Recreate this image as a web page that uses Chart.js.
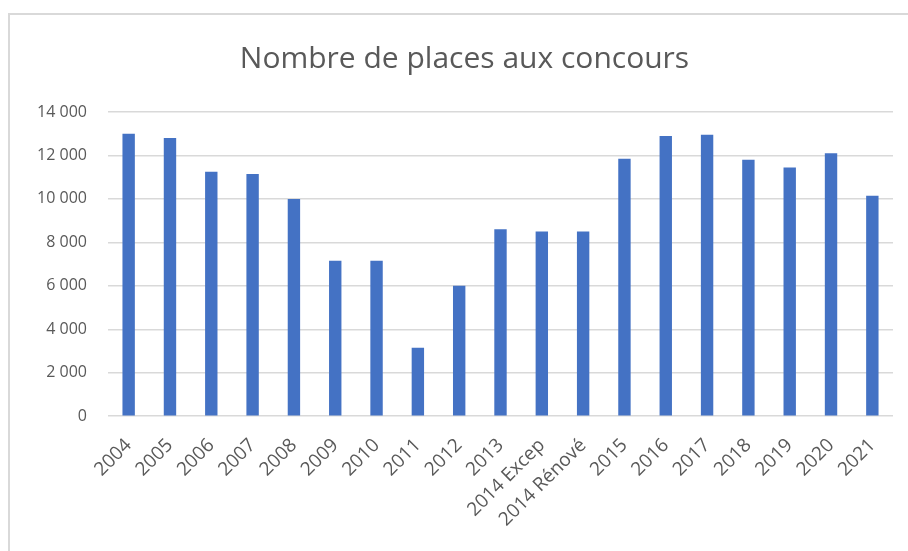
<!DOCTYPE html>
<html>
<head>
<meta charset="utf-8">
<script src="https://cdn.jsdelivr.net/npm/chart.js@4"></script>
<style>
  html, body { margin: 0; padding: 0; background: #fff; }
  #wrap { position: relative; width: 908px; height: 551px; overflow: hidden; }
  #frame { position: absolute; left: 8px; top: 13px; right: -5px; bottom: -5px;
           border-left: 2px solid #d9d9d9; border-top: 2px solid #d9d9d9; }
  canvas { position: absolute; left: 0; top: 0; }
</style>
</head>
<body>
<div id="wrap">
  <div id="frame"></div>
  <canvas id="chart" width="908" height="551"></canvas>
</div>
<script>
const categories = ['2004', '2005', '2006', '2007', '2008', '2009', '2010', '2011', '2012', '2013',
  '2014 Excep', '2014 Rénové', '2015', '2016', '2017', '2018', '2019', '2020', '2021'];
const places = [13000, 12800, 11250, 11150, 10000, 7150, 7150, 3150, 6000, 8600,
  8500, 8500, 11850, 12900, 12950, 11800, 11450, 12100, 10150];
const yTicks = [0, 2000, 4000, 6000, 8000, 10000, 12000, 14000];

const textColor = '#595959';
const gridColor = '#d9d9d9';
const fontFamily = '"Open Sans", "Liberation Sans", sans-serif';

new Chart(document.getElementById('chart').getContext('2d'), {
  type: 'bar',
  data: {
    labels: categories,
    datasets: [{
      label: 'Nombre de places',
      data: places,
      backgroundColor: '#4472c4',
      borderWidth: 0,
      categoryPercentage: 1,
      barPercentage: 0.3
    }]
  },
  options: {
    responsive: false,
    animation: false,
    layout: { padding: { left: 36, right: 15, top: 13, bottom: 10 } },
    plugins: {
      legend: { display: false },
      tooltip: { enabled: false },
      title: {
        display: true,
        text: 'Nombre de places aux concours',
        color: textColor,
        font: { family: fontFamily, size: 30, weight: 'normal' },
        padding: { top: 28, bottom: 35 }
      }
    },
    scales: {
      x: {
        grid: { display: false },
        border: { display: false },
        ticks: {
          color: textColor,
          font: { family: fontFamily, size: 19 },
          maxRotation: 45,
          minRotation: 45,
          autoSkip: false,
          padding: 10
        }
      },
      y: {
        min: 0,
        max: 14000,
        afterBuildTicks: (axis) => { axis.ticks = yTicks.map(v => ({ value: v })); },
        afterFit: (axis) => { axis.width = 72; },
        grid: { color: gridColor, lineWidth: 1.5, drawTicks: false },
        border: { display: false },
        ticks: {
          color: textColor,
          font: { family: fontFamily, size: 16 },
          padding: 21,
          callback: (v) => v.toLocaleString('fr-FR').replace(/\s/g, ' ')
        }
      }
    }
  }
});
</script>
</body>
</html>
